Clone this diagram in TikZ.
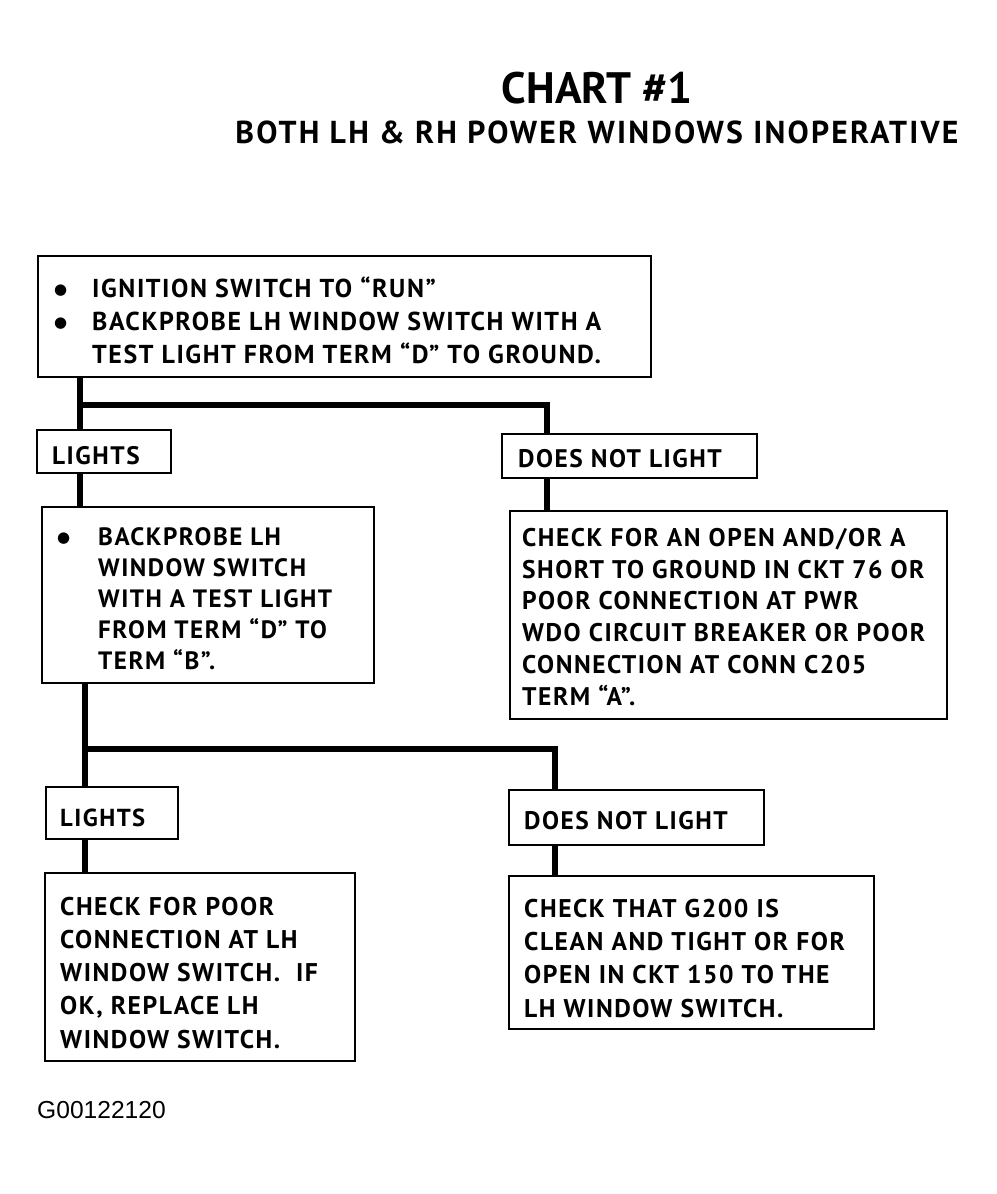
\documentclass[tikz,border=0pt]{standalone}
\usepackage{fontspec}
\setmainfont{PT Sans}
\newfontfamily\codefont{Liberation Sans}
\newfontfamily\dejavu{DejaVu Sans}
\newfontfamily\boxf[LetterSpace=6]{PT Sans}
\newfontfamily\subf[LetterSpace=7]{PT Sans}
\newcommand\bul{\raisebox{2.5pt}{\dejavu\fontsize{15}{15}\selectfont ●}}
\newcommand\strutH{\rule{0pt}{22pt}}
\newcommand\bxfont[2]{\boxf\bfseries\fontsize{#1}{#2}\selectfont}
\tikzset{
  box/.style={draw, line width=1.8pt, rectangle, inner sep=0pt},
  txt/.style={anchor=north west, inner sep=0pt, align=left},
  wire/.style={line width=6.5pt},
}
\begin{document}
\begin{tikzpicture}[x=1pt,y=-1pt]
\useasboundingbox (0,0) rectangle (996,1194);
% titles
\node[anchor=base, inner sep=0pt, font=\bfseries\fontsize{44}{44}\selectfont] (title) at (597,103) {CHART \#1};
\node[anchor=base, inner sep=0pt, font=\subf\bfseries\fontsize{31.7}{31.7}\selectfont] (subtitle) at (597,143) {BOTH LH \& RH POWER WINDOWS INOPERATIVE};

% boxes
\node[box, minimum width=613pt, minimum height=121pt] (b1) at (344.5,316.5) {};
\node[txt, font=\bxfont{25.9}{33}] (b1t) at (54,297-22) {\strutH\makebox[38pt][l]{\bul}IGNITION SWITCH TO “RUN”\\
\makebox[38pt][l]{\bul}BACKPROBE LH WINDOW SWITCH WITH A\\
\hspace*{38pt}TEST LIGHT FROM TERM “D” TO GROUND.};

\node[box, minimum width=134pt, minimum height=43pt] (l1) at (104,451.5) {};
\node[txt, font=\bxfont{25.3}{25}] (l1t) at (52,464-22) {\strutH LIGHTS};

\node[box, minimum width=255pt, minimum height=44pt] (d1) at (629.5,456) {};
\node[txt, font=\bxfont{25.4}{25}] (d1t) at (518,467-22) {\strutH DOES NOT LIGHT};

\node[box, minimum width=332pt, minimum height=176pt] (b2) at (208,595) {};
\node[txt, font=\bxfont{25.1}{31}] (b2t) at (57,545-22) {\strutH\makebox[41pt][l]{\bul}BACKPROBE LH\\
\hspace*{41pt}WINDOW SWITCH\\
\hspace*{41pt}WITH A TEST LIGHT\\
\hspace*{41pt}FROM TERM “D” TO\\
\hspace*{41pt}TERM “B”.};

\node[box, minimum width=437pt, minimum height=208pt] (b3) at (728.5,615) {};
\node[txt, font=\bxfont{25.5}{31.8}] (b3t) at (522,546-22) {\strutH CHECK FOR AN OPEN AND/OR A\\
SHORT TO GROUND IN CKT 76 OR\\
POOR CONNECTION AT PWR\\
WDO CIRCUIT BREAKER OR POOR\\
CONNECTION AT CONN C205\\
TERM “A”.};

\node[box, minimum width=132pt, minimum height=52pt] (l2) at (112,813) {};
\node[txt, font=\bxfont{24.6}{25}] (l2t) at (60,826-22) {\strutH LIGHTS};

\node[box, minimum width=255pt, minimum height=55pt] (d2) at (636.5,817.5) {};
\node[txt, font=\bxfont{25.4}{25}] (d2t) at (524,829-22) {\strutH DOES NOT LIGHT};

\node[box, minimum width=310pt, minimum height=188pt] (b4) at (200,967) {};
\node[txt, font=\bxfont{25.6}{33.2}] (b4t) at (60,915-22) {\strutH CHECK FOR POOR\\
CONNECTION AT LH\\
WINDOW SWITCH.\ \ IF\\
OK, REPLACE LH\\
WINDOW SWITCH.};

\node[box, minimum width=365pt, minimum height=153pt] (b5) at (691.5,952.5) {};
\node[txt, font=\bxfont{25.6}{33.3}] (b5t) at (524,917-22) {\strutH CHECK THAT G200 IS\\
CLEAN AND TIGHT OR FOR\\
OPEN IN CKT 150 TO THE\\
LH WINDOW SWITCH.};

\node[anchor=base west, inner sep=0pt, font=\codefont\fontsize{24.6}{24}\selectfont] (code) at (37,1118) {G00122120};

% connectors
\coordinate (j1) at (80,405);
\coordinate (j2) at (547,405);
\coordinate (j3) at (85,749);
\coordinate (j4) at (555,749);
\draw[wire] (b1.south -| j1) -- (l1.north -| j1);
\draw[wire] (j1) -- (j2) -- (d1.north -| j2);
\draw[wire] (l1.south -| j1) -- (b2.north -| j1);
\draw[wire] (d1.south -| j2) -- (b3.north -| j2);
\draw[wire] (b2.south -| j3) -- (l2.north -| j3);
\draw[wire] (j3) -- (j4) -- (d2.north -| j4);
\draw[wire] (l2.south -| j3) -- (b4.north -| j3);
\draw[wire] (d2.south -| j4) -- (b5.north -| j4);
\end{tikzpicture}
\end{document}
